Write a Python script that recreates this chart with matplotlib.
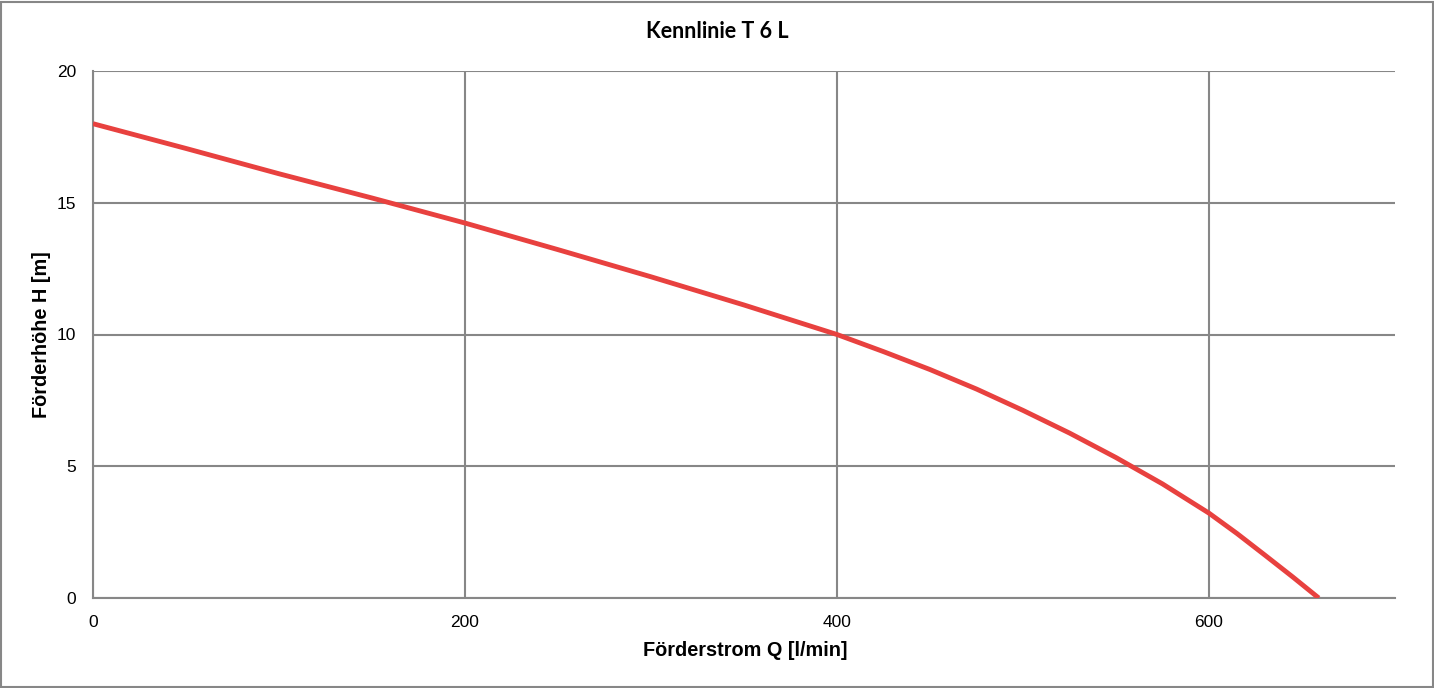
import matplotlib
matplotlib.use("Agg")
import matplotlib.pyplot as plt
from matplotlib.patches import Rectangle

# Data
q_values = [0, 50, 100, 150, 200, 250, 300, 350, 400, 425, 450, 475, 500, 525,
            550, 575, 600, 615, 630, 645, 659]
h_values = [18.0, 17.06, 16.1, 15.18, 14.23, 13.22, 12.19, 11.12, 10.0, 9.35, 8.67,
            7.93, 7.12, 6.26, 5.33, 4.33, 3.22, 2.45, 1.63, 0.8, 0.0]
x_ticks = [0, 200, 400, 600]
y_ticks = [0, 5, 10, 15, 20]

title = "Kennlinie T 6 L"
x_label = "Förderstrom Q [l/min]"
y_label = "Förderhöhe H [m]"

W, H = 1434, 688
fig = plt.figure(figsize=(W / 100, H / 100), dpi=100)
fig.patch.set_facecolor("white")

left, right, top, bottom = 93, 1395, 71, 598
ax = fig.add_axes([left / W, 1 - bottom / H, (right - left) / W, (bottom - top) / H])

grid_col = "#878787"
ax.plot(q_values, h_values, color="#E8413F", lw=3.5, solid_capstyle="butt",
        solid_joinstyle="round", zorder=3)
ax.set_xlim(0, 700)
ax.set_ylim(0, 20)
ax.set_xticks(x_ticks)
ax.set_yticks(y_ticks)
ax.grid(True, color=grid_col, lw=1.5, zorder=1)
ax.set_axisbelow(True)
for s in ["top", "right"]:
    ax.spines[s].set_visible(False)
for s in ["left", "bottom"]:
    ax.spines[s].set_color(grid_col)
    ax.spines[s].set_linewidth(1.5)
ax.tick_params(length=0, labelsize=12.5, pad=12, colors="black")
for lbl in ax.get_xticklabels() + ax.get_yticklabels():
    lbl.set_fontfamily("Liberation Sans")

fig.text(0.5, 1 - 32 / H, title, ha="center", va="center", fontsize=15.5,
         fontweight="bold", family="Lato")
fig.text(745 / W, 1 - 650 / H, x_label, ha="center", va="center", fontsize=14.3,
         fontweight="bold", family="Liberation Sans")
fig.text(42 / W, 1 - 335 / H, y_label, ha="center", va="center", fontsize=14.3,
         fontweight="bold", family="Liberation Sans", rotation=90)

fig.patches.append(Rectangle((1.5 / W, 1.5 / H), (W - 3) / W, (H - 3) / H,
                             transform=fig.transFigure, fill=False,
                             edgecolor=grid_col, lw=1.5))

fig.savefig("out.png", dpi=100)
